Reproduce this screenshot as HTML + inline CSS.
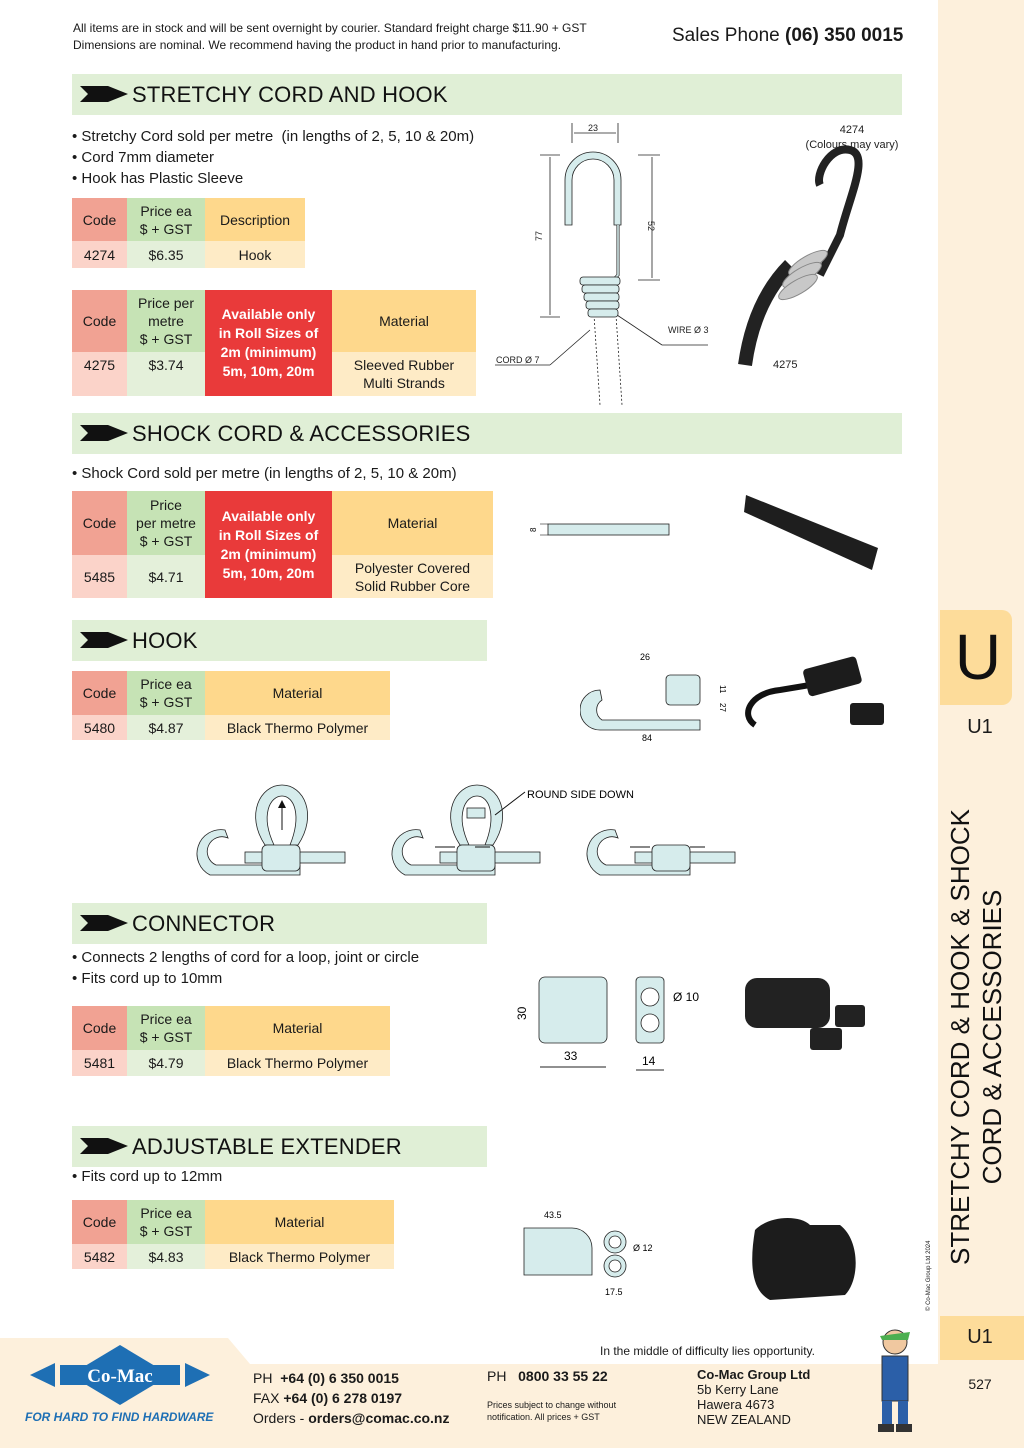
<!DOCTYPE html>
<html><head><meta charset="utf-8">
<style>
*{margin:0;padding:0;box-sizing:border-box}
body{width:1024px;height:1448px;position:relative;background:#fff;font-family:"Liberation Sans",sans-serif;color:#1a1a1a;overflow:hidden}
.a{position:absolute}
.bar{position:absolute;left:72px;background:#e0efd6;height:41px}
.bar span{position:absolute;left:60px;top:8px;font-size:22px;color:#111;letter-spacing:0.2px}
.bar svg{position:absolute;left:8px;top:12px}
.t{position:absolute;font-size:15px;line-height:21px}
.c{position:absolute;display:flex;align-items:center;justify-content:center;text-align:center;font-size:14px;line-height:18px}
.ch{background:#f1a293}.cd{background:#fbd3c9}
.ph{background:#c6e3b5}.pd{background:#e4f0da}
.dh{background:#fed88c}.dd{background:#feebc6}
.red{background:#e93a3a;color:#fff;font-weight:bold;font-size:14px;line-height:19px}
</style></head><body>

<!-- sidebar -->
<div class="a" style="left:938px;top:0;width:86px;height:1448px;background:#fdf0dc"></div>
<div class="a" style="left:940px;top:610px;width:72px;height:95px;background:#fddc9a;border-radius:0 10px 10px 0"></div>
<div class="a" style="left:950px;top:612px;width:56px;font-size:64px;line-height:90px;text-align:center;color:#111">U</div>
<div class="a" style="left:950px;top:716px;width:60px;font-size:20px;text-align:center">U1</div>
<div class="a" style="left:976px;top:1037px;width:0;height:0">
 <div style="position:absolute;left:-260px;top:-32px;width:520px;height:64px;transform:rotate(-90deg);font-size:26px;line-height:32px;text-align:center;color:#111;white-space:nowrap">STRETCHY CORD &amp; HOOK &amp; SHOCK<br>CORD &amp; ACCESSORIES</div>
</div>
<div class="a" style="left:929px;top:1268px;width:0;height:0"><div style="position:absolute;left:-40px;top:0;width:80px;transform:rotate(-90deg);font-size:6px;white-space:nowrap">© Co-Mac Group Ltd 2024</div></div>
<div class="a" style="left:940px;top:1316px;width:84px;height:44px;background:#fddc9a"></div>
<div class="a" style="left:950px;top:1326px;width:60px;font-size:20px;text-align:center">U1</div>
<div class="a" style="left:950px;top:1376px;width:60px;font-size:14px;text-align:center">527</div>

<!-- top text -->
<div class="a" style="left:73px;top:20px;font-size:12px;line-height:17px">All items are in stock and will be sent overnight by courier. Standard freight charge $11.90 + GST<br>Dimensions are nominal. We recommend having the product in hand prior to manufacturing.</div>
<div class="a" style="left:672px;top:25px;font-size:19px">Sales Phone <b>(06) 350 0015</b></div>

<!-- Section 1 -->
<div class="bar" style="top:74px;width:830px"><svg width="50" height="16"><polygon points="0,0 28,0 48,8 28,16 0,16 8,8" fill="#111"/></svg><span>STRETCHY CORD AND HOOK</span></div>
<div class="t" style="left:72px;top:126px">• Stretchy Cord sold per metre &nbsp;(in lengths of 2, 5, 10 &amp; 20m)<br>• Cord 7mm diameter<br>• Hook has Plastic Sleeve</div>

<div class="c ch" style="left:72px;top:198px;width:55px;height:43px">Code</div>
<div class="c ph" style="left:127px;top:198px;width:78px;height:43px">Price ea<br>$ + GST</div>
<div class="c dh" style="left:205px;top:198px;width:100px;height:43px">Description</div>
<div class="c cd" style="left:72px;top:241px;width:55px;height:27px">4274</div>
<div class="c pd" style="left:127px;top:241px;width:78px;height:27px">$6.35</div>
<div class="c dd" style="left:205px;top:241px;width:100px;height:27px">Hook</div>

<div class="c ch" style="left:72px;top:290px;width:55px;height:62px">Code</div>
<div class="c ph" style="left:127px;top:290px;width:78px;height:62px">Price per<br>metre<br>$ + GST</div>
<div class="c red" style="left:205px;top:290px;width:127px;height:106px">Available only<br>in Roll Sizes of<br>2m (minimum)<br>5m, 10m, 20m</div>
<div class="c dh" style="left:332px;top:290px;width:144px;height:62px">Material</div>
<div class="c cd" style="left:72px;top:352px;width:55px;height:44px;align-items:flex-start;padding-top:4px">4275</div>
<div class="c pd" style="left:127px;top:352px;width:78px;height:44px;align-items:flex-start;padding-top:4px">$3.74</div>
<div class="c dd" style="left:332px;top:352px;width:144px;height:44px">Sleeved Rubber<br>Multi Strands</div>

<!-- drawing 1 -->
<svg class="a" style="left:490px;top:115px" width="430" height="300">
 <g stroke="#222" fill="none" stroke-width="0.8">
  <line x1="82" y1="8" x2="82" y2="28"/><line x1="128" y1="8" x2="128" y2="28"/><line x1="84" y1="18" x2="126" y2="18"/>
  <line x1="50" y1="40" x2="70" y2="40"/><line x1="50" y1="202" x2="70" y2="202"/><line x1="60" y1="42" x2="60" y2="200"/>
  <line x1="148" y1="40" x2="170" y2="40"/><line x1="148" y1="165" x2="170" y2="165"/><line x1="162" y1="42" x2="162" y2="163"/>
  <line x1="127" y1="200" x2="172" y2="230"/><line x1="172" y1="230" x2="218" y2="230"/>
  <line x1="100" y1="215" x2="60" y2="250"/><line x1="60" y1="250" x2="5" y2="250"/>
  <path d="M104,200 L110,290 M126,200 L132,290" stroke-dasharray="2,2"/>
 </g>
 <path d="M75,110 L75,65 A28,28 0 0 1 131,65 L131,110 L124,110 L124,65 A21,21 0 0 0 82,65 L82,110 Z" fill="#d6ecec" stroke="#222" stroke-width="0.8"/>
 <path d="M128,110 L128,160 L120,168" fill="none" stroke="#222" stroke-width="3"/>
 <path d="M128,110 L128,160 L120,168" fill="none" stroke="#d6ecec" stroke-width="1.6"/>
 <g fill="#d6ecec" stroke="#222" stroke-width="0.8">
  <rect x="90" y="162" width="40" height="8" rx="3"/><rect x="92" y="170" width="37" height="8" rx="3"/><rect x="94" y="178" width="35" height="8" rx="3"/><rect x="96" y="186" width="33" height="8" rx="3"/><rect x="98" y="194" width="30" height="8" rx="3"/>
 </g>
 <text x="98" y="16" font-size="9" fill="#222">23</text>
 <text x="52" y="126" font-size="9" fill="#222" transform="rotate(-90 52 126)">77</text>
 <text x="158" y="106" font-size="9" fill="#222" transform="rotate(90 158 106)">52</text>
 <text x="178" y="218" font-size="9" fill="#222">WIRE Ø 3</text>
 <text x="6" y="248" font-size="9" fill="#222">CORD Ø 7</text>
 <text x="362" y="18" font-size="11" fill="#222" text-anchor="middle">4274</text>
 <text x="362" y="33" font-size="11" fill="#222" text-anchor="middle">(Colours may vary)</text>
 <path d="M255,250 C262,200 280,170 300,150" stroke="#222" stroke-width="14" fill="none"/>
 <path d="M330,160 L350,120 C360,80 380,40 360,35 C340,30 325,60 330,70" stroke="#222" stroke-width="8" fill="none"/>
 <g fill="#c8c8c8" stroke="#888"><ellipse cx="318" cy="148" rx="22" ry="7" transform="rotate(-30 318 148)"/><ellipse cx="312" cy="160" rx="22" ry="7" transform="rotate(-30 312 160)"/><ellipse cx="308" cy="172" rx="22" ry="7" transform="rotate(-30 308 172)"/></g>
 <text x="283" y="253" font-size="11" fill="#222">4275</text>
</svg>

<!-- Section 2 -->
<div class="bar" style="top:413px;width:830px"><svg width="50" height="16"><polygon points="0,0 28,0 48,8 28,16 0,16 8,8" fill="#111"/></svg><span>SHOCK CORD &amp; ACCESSORIES</span></div>
<div class="t" style="left:72px;top:463px">• Shock Cord sold per metre (in lengths of 2, 5, 10 &amp; 20m)</div>
<div class="c ch" style="left:72px;top:491px;width:55px;height:64px">Code</div>
<div class="c ph" style="left:127px;top:491px;width:78px;height:64px">Price<br>per metre<br>$ + GST</div>
<div class="c red" style="left:205px;top:491px;width:127px;height:107px">Available only<br>in Roll Sizes of<br>2m (minimum)<br>5m, 10m, 20m</div>
<div class="c dh" style="left:332px;top:491px;width:161px;height:64px">Material</div>
<div class="c cd" style="left:72px;top:555px;width:55px;height:43px">5485</div>
<div class="c pd" style="left:127px;top:555px;width:78px;height:43px">$4.71</div>
<div class="c dd" style="left:332px;top:555px;width:161px;height:43px">Polyester Covered<br>Solid Rubber Core</div>
<svg class="a" style="left:520px;top:490px" width="380" height="90">
 <rect x="28" y="34" width="121" height="11" fill="#d6ecec" stroke="#222" stroke-width="0.8"/>
 <line x1="20" y1="34" x2="28" y2="34" stroke="#222" stroke-width="0.6"/><line x1="20" y1="45" x2="28" y2="45" stroke="#222" stroke-width="0.6"/>
 <text x="16" y="42" font-size="8" transform="rotate(-90 16 42)">8</text>
 <path d="M226,5 L358,58 L352,80 L224,22 Z" fill="#1e1e1e"/>
</svg>

<!-- HOOK -->
<div class="bar" style="top:620px;width:415px"><svg width="50" height="16"><polygon points="0,0 28,0 48,8 28,16 0,16 8,8" fill="#111"/></svg><span>HOOK</span></div>
<div class="c ch" style="left:72px;top:671px;width:55px;height:44px">Code</div>
<div class="c ph" style="left:127px;top:671px;width:78px;height:44px">Price ea<br>$ + GST</div>
<div class="c dh" style="left:205px;top:671px;width:185px;height:44px">Material</div>
<div class="c cd" style="left:72px;top:715px;width:55px;height:25px">5480</div>
<div class="c pd" style="left:127px;top:715px;width:78px;height:25px">$4.87</div>
<div class="c dd" style="left:205px;top:715px;width:185px;height:25px">Black Thermo Polymer</div>
<svg class="a" style="left:580px;top:645px" width="330" height="100">
 <path d="M20,45 A20,20 0 0 0 20,85 L120,85 L120,75 L22,75 A12,12 0 0 1 22,55 Z" fill="#d6ecec" stroke="#222" stroke-width="0.8"/>
 <rect x="86" y="30" width="34" height="30" rx="4" fill="#d6ecec" stroke="#222" stroke-width="0.8"/>
 <text x="60" y="15" font-size="9">26</text><text x="62" y="96" font-size="9">84</text>
 <text x="140" y="40" font-size="8" transform="rotate(90 140 40)">11</text><text x="140" y="58" font-size="8" transform="rotate(90 140 58)">27</text>
 <path d="M175,80 C160,70 170,48 200,45 L230,40" stroke="#111" stroke-width="6" fill="none"/>
 <rect x="225" y="18" width="55" height="28" rx="4" fill="#1c1c1c" transform="rotate(-15 250 32)"/>
 <rect x="270" y="58" width="34" height="22" rx="3" fill="#1c1c1c"/>
</svg>

<!-- hook steps -->
<svg class="a" style="left:190px;top:770px" width="600" height="120">
 <defs>
 <g id="hk"><path d="M35,60 A24,24 0 0 0 20,105 L110,105 L110,95 L26,95 A14,14 0 0 1 38,68 Z" fill="#d6ecec" stroke="#222" stroke-width="0.8"/><rect x="55" y="82" width="100" height="11" fill="#d6ecec" stroke="#222" stroke-width="0.8"/><rect x="72" y="75" width="38" height="26" rx="5" fill="#d6ecec" stroke="#222" stroke-width="0.8"/></g>
 <g id="lp"><path d="M75,75 C55,45 70,15 92,15 C114,15 128,45 108,75 L100,75 C112,45 104,26 92,26 C80,26 70,45 84,75 Z" fill="#d6ecec" stroke="#222" stroke-width="0.8"/></g>
 </defs>
 <use href="#lp"/><use href="#hk"/>
 <line x1="92" y1="60" x2="92" y2="35" stroke="#111"/><polygon points="88,38 96,38 92,30" fill="#111"/>
 <g transform="translate(195,0)"><use href="#lp"/><use href="#hk"/><rect x="82" y="38" width="18" height="10" fill="#d6ecec" stroke="#222" stroke-width="0.8"/></g>
 <line x1="245" y1="77" x2="265" y2="77" stroke="#111"/><line x1="285" y1="77" x2="300" y2="77" stroke="#111"/>
 <line x1="305" y1="45" x2="335" y2="22" stroke="#111"/>
 <text x="337" y="28" font-size="11">ROUND SIDE DOWN</text>
 <g transform="translate(390,0)"><use href="#hk"/></g>
 <line x1="440" y1="77" x2="460" y2="77" stroke="#111"/><line x1="500" y1="77" x2="515" y2="77" stroke="#111"/>
</svg>

<!-- CONNECTOR -->
<div class="bar" style="top:903px;width:415px"><svg width="50" height="16"><polygon points="0,0 28,0 48,8 28,16 0,16 8,8" fill="#111"/></svg><span>CONNECTOR</span></div>
<div class="t" style="left:72px;top:947px">• Connects 2 lengths of cord for a loop, joint or circle<br>• Fits cord up to 10mm</div>
<div class="c ch" style="left:72px;top:1006px;width:55px;height:44px">Code</div>
<div class="c ph" style="left:127px;top:1006px;width:78px;height:44px">Price ea<br>$ + GST</div>
<div class="c dh" style="left:205px;top:1006px;width:185px;height:44px">Material</div>
<div class="c cd" style="left:72px;top:1050px;width:55px;height:26px">5481</div>
<div class="c pd" style="left:127px;top:1050px;width:78px;height:26px">$4.79</div>
<div class="c dd" style="left:205px;top:1050px;width:185px;height:26px">Black Thermo Polymer</div>
<svg class="a" style="left:500px;top:970px" width="420" height="110">
 <rect x="39" y="7" width="68" height="66" rx="6" fill="#d6ecec" stroke="#222" stroke-width="0.8"/>
 <rect x="136" y="7" width="28" height="66" rx="4" fill="#d6ecec" stroke="#222" stroke-width="0.8"/>
 <circle cx="150" cy="27" r="9" fill="#fff" stroke="#222" stroke-width="0.8"/><circle cx="150" cy="53" r="9" fill="#fff" stroke="#222" stroke-width="0.8"/>
 <text x="10" y="46" font-size="12" transform="rotate(-90 20 40)">30</text>
 <text x="64" y="90" font-size="12">33</text><text x="142" y="95" font-size="12">14</text><text x="173" y="31" font-size="12">Ø 10</text>
 <line x1="40" y1="97" x2="106" y2="97" stroke="#222"/><line x1="136" y1="100" x2="164" y2="100" stroke="#222"/>
 <rect x="245" y="8" width="85" height="50" rx="12" fill="#222"/>
 <rect x="335" y="35" width="30" height="22" rx="3" fill="#222"/><rect x="310" y="58" width="32" height="22" rx="3" fill="#222"/>
</svg>

<!-- ADJUSTABLE -->
<div class="bar" style="top:1126px;width:415px"><svg width="50" height="16"><polygon points="0,0 28,0 48,8 28,16 0,16 8,8" fill="#111"/></svg><span>ADJUSTABLE EXTENDER</span></div>
<div class="t" style="left:72px;top:1166px">• Fits cord up to 12mm</div>
<div class="c ch" style="left:72px;top:1200px;width:55px;height:44px">Code</div>
<div class="c ph" style="left:127px;top:1200px;width:78px;height:44px">Price ea<br>$ + GST</div>
<div class="c dh" style="left:205px;top:1200px;width:189px;height:44px">Material</div>
<div class="c cd" style="left:72px;top:1244px;width:55px;height:25px">5482</div>
<div class="c pd" style="left:127px;top:1244px;width:78px;height:25px">$4.83</div>
<div class="c dd" style="left:205px;top:1244px;width:189px;height:25px">Black Thermo Polymer</div>
<svg class="a" style="left:500px;top:1200px" width="400" height="110">
 <path d="M24,28 L72,28 A20,20 0 0 1 92,48 L92,75 L24,75 Z" fill="#d6ecec" stroke="#222" stroke-width="0.8"/>
 <text x="44" y="18" font-size="9">43.5</text>
 <circle cx="115" cy="42" r="11" fill="#d6ecec" stroke="#222" stroke-width="0.8"/><circle cx="115" cy="42" r="6" fill="#fff" stroke="#222" stroke-width="0.8"/>
 <circle cx="115" cy="66" r="11" fill="#d6ecec" stroke="#222" stroke-width="0.8"/><circle cx="115" cy="66" r="6" fill="#fff" stroke="#222" stroke-width="0.8"/>
 <text x="133" y="51" font-size="9">Ø 12</text><text x="105" y="95" font-size="9">17.5</text>
 <path d="M255,30 C270,15 300,15 310,25 L340,25 C360,40 360,80 345,95 L270,100 C250,90 250,60 255,30 Z" fill="#1c1c1c"/>
</svg>

<!-- footer -->
<svg class="a" style="left:0;top:1338px" width="940" height="110"><polygon points="0,0 228,0 250,26 940,26 940,110 0,110" fill="#fdf0dc"/></svg>
<svg class="a" style="left:20px;top:1343px" width="200" height="70">
 <polygon points="100,2 150,32 100,62 50,32" fill="#1e6fb4"/>
 <polygon points="10,32 35,20 35,44" fill="#1e6fb4"/><polygon points="190,32 165,20 165,44" fill="#1e6fb4"/>
 <rect x="40" y="22" width="120" height="20" fill="#1e6fb4"/>
 <text x="100" y="39" font-size="19" font-weight="bold" font-family="Liberation Serif" fill="#fff" text-anchor="middle">Co-Mac</text>
</svg>
<div class="a" style="left:25px;top:1410px;font-size:12px;font-weight:bold;font-style:italic;color:#1e6fb4">FOR HARD TO FIND HARDWARE</div>
<div class="a" style="left:600px;top:1344px;font-size:12px">In the middle of difficulty lies opportunity.</div>
<div class="a" style="left:253px;top:1368px;font-size:14px;line-height:20px">PH &nbsp;<b>+64 (0) 6 350 0015</b><br>FAX <b>+64 (0) 6 278 0197</b><br>Orders - <b>orders@comac.co.nz</b></div>
<div class="a" style="left:487px;top:1368px;font-size:14px">PH &nbsp;&nbsp;<b>0800 33 55 22</b></div>
<div class="a" style="left:487px;top:1399px;font-size:9px;line-height:12px">Prices subject to change without<br>notification. All prices + GST</div>
<div class="a" style="left:697px;top:1367px;font-size:13px;line-height:15px"><b>Co-Mac Group Ltd</b><br>5b Kerry Lane<br>Hawera 4673<br>NEW ZEALAND</div>
<svg class="a" style="left:860px;top:1326px" width="70" height="110">
 <circle cx="35" cy="16" r="12" fill="#f0c8a0" stroke="#333"/><path d="M20,10 L50,6 L48,14 L22,14 Z" fill="#4caf50"/>
 <rect x="22" y="30" width="26" height="45" fill="#2b5fa8" stroke="#333"/><rect x="22" y="75" width="10" height="25" fill="#2b5fa8"/><rect x="38" y="75" width="10" height="25" fill="#2b5fa8"/>
 <rect x="18" y="98" width="16" height="8" fill="#333"/><rect x="36" y="98" width="16" height="8" fill="#333"/>
</svg>
</body></html>
